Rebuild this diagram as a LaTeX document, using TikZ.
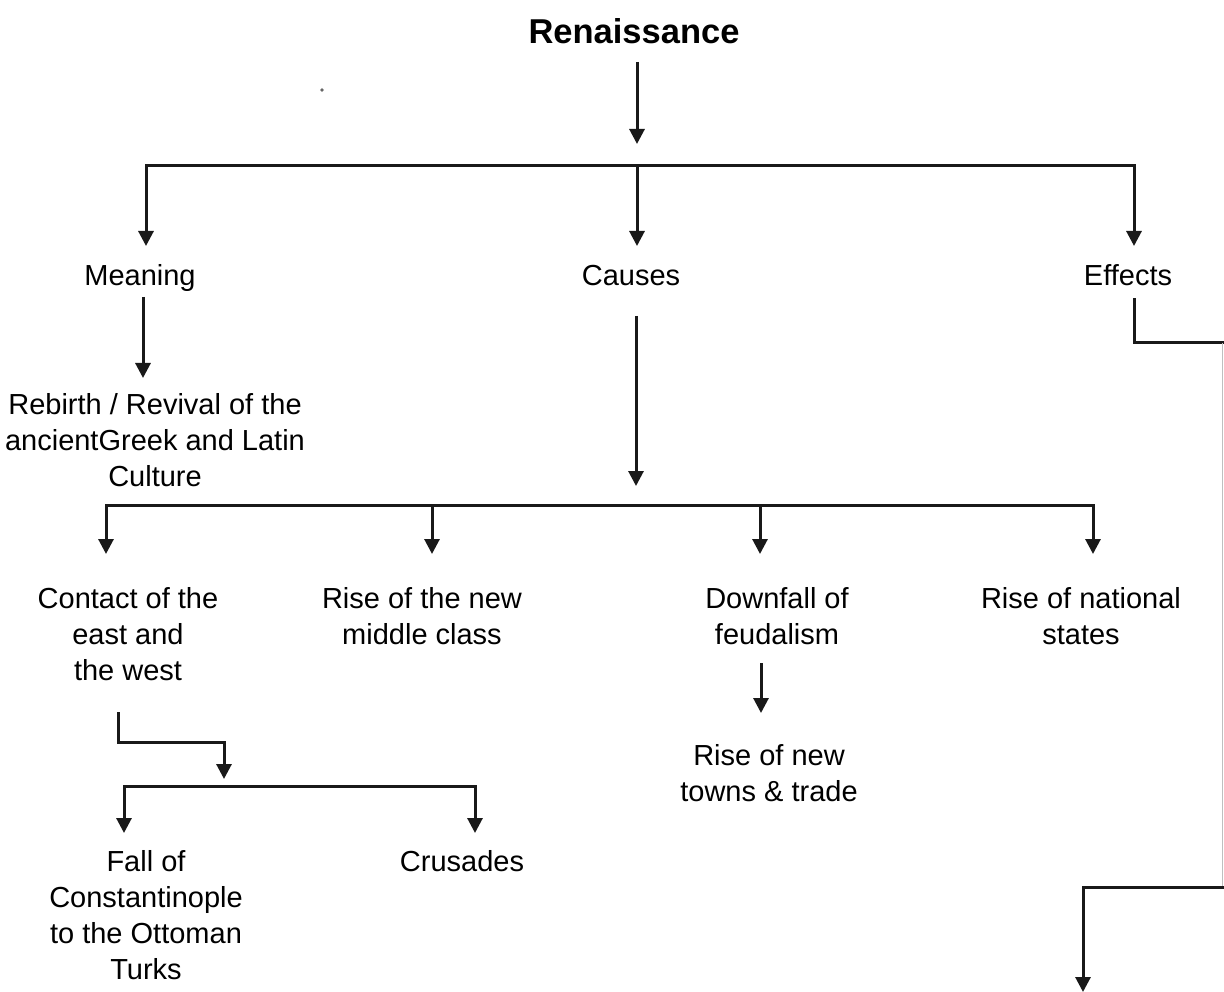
\documentclass[tikz,border=0pt]{standalone}
\usepackage{fontspec}
\setmainfont{Liberation Sans}
\usetikzlibrary{arrows.meta}
\begin{document}
\begin{tikzpicture}[x=1pt,y=-1pt,
  lbl/.style={inner sep=0pt,align=center,font=\fontsize{29}{36}\selectfont},
  ttl/.style={inner sep=0pt,font=\bfseries\fontsize{34.5}{40}\selectfont},
  wire/.style={line width=3pt,draw=black!90,line cap=rect},
  arr/.style={line width=3pt,draw=black!90,-{Triangle[length=15pt,width=15pt]}}]
\useasboundingbox (0,0) rectangle (1224,992);

% headings and labels
\node[ttl] (ren) at (634,31) {Renaissance};
\node[lbl,anchor=base] (mean) at (140,286) {Meaning};
\node[lbl,anchor=base] (cause) at (631,286) {Causes};
\node[lbl,anchor=base] (eff) at (1128,286) {Effects};
\node[lbl] (reb) at (155,440) {Rebirth / Revival of the\\ancientGreek and Latin\\Culture};
\node[lbl] (cont) at (128,634) {Contact of the\\east and\\the west};
\node[lbl] (mid) at (422,616) {Rise of the new\\middle class};
\node[lbl] (feud) at (777,616) {Downfall of\\feudalism};
\node[lbl] (nat) at (1081,616) {Rise of national\\states};
\node[lbl] (town) at (769,773) {Rise of new\\towns \& trade};
\node[lbl] (fall) at (146,915) {Fall of\\Constantinople\\to the Ottoman\\Turks};
\node[lbl] (crus) at (462,861) {Crusades};

% stray mark
\fill[black!60] (322,90) circle (1.8pt);

% junction points
\coordinate (r0) at (637,62);
\coordinate (r1) at (637,144);
\coordinate (b1l) at (146,166);
\coordinate (b1m) at (637,166);
\coordinate (b1r) at (1134,166);
\coordinate (m0) at (143,297);
\coordinate (m1) at (143,378);
\coordinate (c0) at (636,316);
\coordinate (c1) at (636,486);
\coordinate (b2a) at (106,505);
\coordinate (b2b) at (432,505);
\coordinate (b2c) at (760,505);
\coordinate (b2d) at (1093,505);
\coordinate (k0) at (118,712);
\coordinate (k1) at (224,742);
\coordinate (k2) at (224,779);
\coordinate (b3l) at (124,786);
\coordinate (b3r) at (475,786);
\coordinate (f0) at (761,663);
\coordinate (f1) at (761,713);
\coordinate (e0) at (1134,300);
\coordinate (e1) at (1222,343);
\coordinate (e2) at (1222,887);
\coordinate (e3) at (1083,887);
\coordinate (e4) at (1083,992);

% top level
\draw[arr] (r0) -- (r1);
\draw[wire] (b1l) -- (b1r);
\draw[arr] (b1l) -- ++(0,80);
\draw[arr] (b1m) -- ++(0,80);
\draw[arr] (b1r) -- ++(0,80);

% meaning
\draw[arr] (m0) -- (m1);

% causes
\draw[arr] (c0) -- (c1);
\draw[wire] (b2a) -- (b2d);
\draw[arr] (b2a) -- ++(0,49);
\draw[arr] (b2b) -- ++(0,49);
\draw[arr] (b2c) -- ++(0,49);
\draw[arr] (b2d) -- ++(0,49);

% contact of the east and the west
\draw[arr] (k0) |- (k1) -- (k2);
\draw[wire] (b3l) -- (b3r);
\draw[arr] (b3l) -- ++(0,47);
\draw[arr] (b3r) -- ++(0,47);

% downfall of feudalism
\draw[arr] (f0) -- (f1);

% effects
\draw[wire] (e0) |- (1224,343);
\draw[line width=1pt,draw=black!25] (e1) -- (e2);
\draw[arr] (1224,887) -- (e3) -- (e4);
\end{tikzpicture}
\end{document}
